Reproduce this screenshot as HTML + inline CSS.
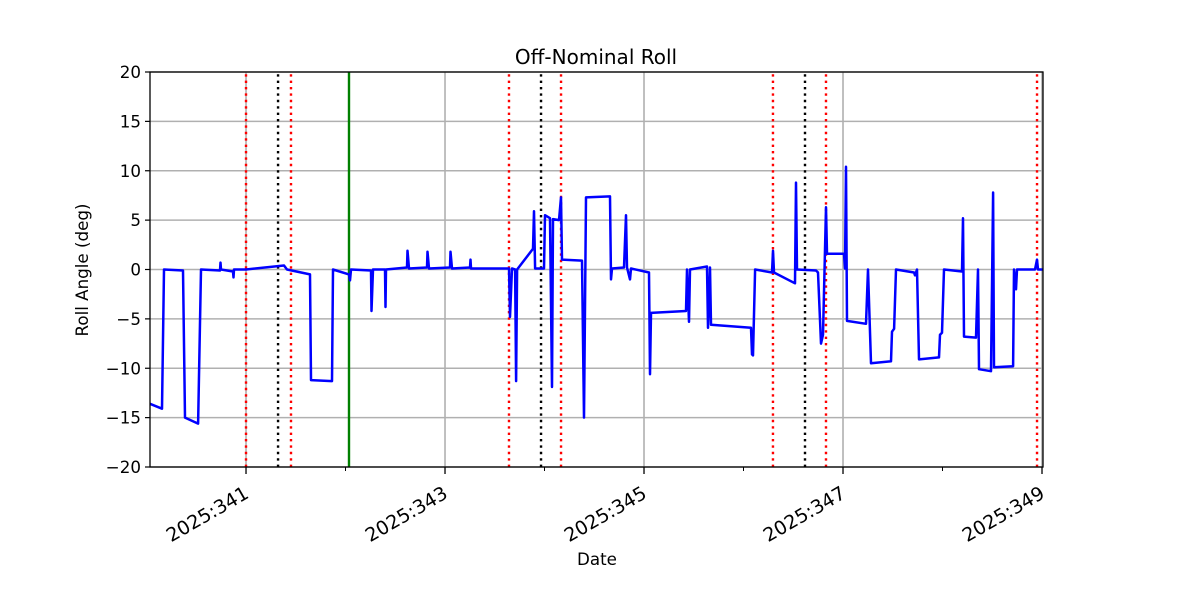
<!DOCTYPE html>
<html><head><meta charset="utf-8"><style>
html,body{margin:0;padding:0;background:#fff;}
svg{display:block;font-family:"DejaVu Sans","Liberation Sans",sans-serif;}
</style></head><body>
<svg id="chart" width="1200" height="600" viewBox="0 0 1200 600" xmlns="http://www.w3.org/2000/svg">
<rect width="1200" height="600" fill="#fff"/>
<g id="grid"></g>
<g id="vlines"></g>
<g id="series"></g>
<rect x="150" y="72" width="893" height="395" fill="none" stroke="#000" stroke-width="1.3"/>
<g id="axes"></g>
<text x="596" y="64" font-size="20" text-anchor="middle">Off-Nominal Roll</text>
<text x="597" y="565" font-size="16.7" text-anchor="middle">Date</text>
<text transform="translate(88,270) rotate(-90)" font-size="16.7" text-anchor="middle">Roll Angle (deg)</text>
</svg>
<script>
const days=[340.035,340.156,340.176,340.367,340.387,340.518,340.548,340.739,340.744,340.749,340.869,340.874,340.879,341.000,341.382,341.412,341.643,341.653,341.864,341.874,342.035,342.045,342.055,342.256,342.261,342.276,342.397,342.402,342.407,342.618,342.623,342.638,342.819,342.824,342.839,343.050,343.055,343.070,343.251,343.256,343.261,343.643,343.653,343.673,343.704,343.714,343.724,343.884,343.894,343.905,343.995,344.005,344.055,344.075,344.085,344.146,344.166,344.176,344.377,344.397,344.417,344.658,344.668,344.678,344.799,344.819,344.829,344.859,344.869,345.050,345.060,345.070,345.422,345.432,345.452,345.462,345.633,345.643,345.663,345.673,346.075,346.085,346.095,346.116,346.286,346.296,346.306,346.518,346.528,346.538,346.729,346.749,346.779,346.799,346.829,346.839,347.010,347.020,347.030,347.040,347.231,347.251,347.281,347.482,347.492,347.513,347.533,347.714,347.724,347.744,347.764,347.965,347.975,347.995,348.015,348.196,348.206,348.216,348.337,348.357,348.367,348.487,348.508,348.518,348.709,348.719,348.739,348.749,348.930,348.950,348.960,349.010];
const roll=[-13.6,-14.1,0,-0.1,-15,-15.6,0,-0.1,0.7,0,-0.2,-0.8,0,0,0.4,0,-0.5,-11.2,-11.3,0,-0.5,-1.1,0,-0.1,-4.2,0,0,-3.8,0,0.2,1.9,0.1,0.2,1.8,0.1,0.2,1.8,0.1,0.2,1.0,0.1,0.1,-4.8,0.1,0,-11.3,0,2.1,5.9,0.1,0.1,5.5,5.2,-11.9,5.1,5.0,7.3,1.0,0.9,-15,7.3,7.4,-1.0,0.1,0.2,5.5,0.2,-1.0,0.1,-0.3,-10.6,-4.4,-4.2,0,-5.3,0,0.3,-5.9,0.2,-5.6,-5.9,-8.6,-8.7,0,-0.3,1.9,-0.3,-1.4,8.8,0,-0.1,-0.3,-7.5,-6.6,6.3,1.6,1.6,0.1,10.4,-5.2,-5.5,0,-9.5,-9.3,-6.3,-6.0,0,-0.3,-0.6,0,-9.1,-8.9,-6.6,-6.4,0,-0.2,5.2,-6.8,-6.9,0,-10.1,-10.3,7.8,-9.9,-9.8,0,-2.0,0,0,1.0,0,0];
const redLines=[341.000,341.452,343.643,344.166,346.296,346.829,348.950];
const blackLines=[341.322,343.965,346.618];
const greenLines=[342.035];
const majorTicks=[341,343,345,347,349];
const minorTicks=[342,344,346,348];
const yTicks=[-20,-15,-10,-5,0,5,10,15,20];
const X0=150,X1=1043,Y0=467,Y1=72,D0=340.035,D1=349.01;
const xs=d=>X0+(d-D0)/(D1-D0)*(X1-X0);
const ys=v=>Y0+(v+20)/40*(Y1-Y0);
const NS="http://www.w3.org/2000/svg";
function mk(tag,attrs,parent){const e=document.createElementNS(NS,tag);for(const k in attrs)e.setAttribute(k,attrs[k]);parent.appendChild(e);return e;}
const grid=document.getElementById('grid'),vl=document.getElementById('vlines'),ser=document.getElementById('series'),ax=document.getElementById('axes');
yTicks.forEach(v=>{const y=ys(v);
 const g=mk('line',{x1:X0,x2:X1,y1:y,y2:y,stroke:'#b0b0b0','stroke-width':1.6},grid);
 
 
 mk('line',{x1:X0-5,x2:X0,y1:y,y2:y,stroke:'#000','stroke-width':1.2},ax);
 const t=mk('text',{x:X0-9,y:y+6,'font-size':16.7,'text-anchor':'end'},ax);t.textContent=String(v).replace('-','\u2212');
 
 
});
majorTicks.forEach(d=>{const x=xs(d);
 const g=mk('line',{x1:x,x2:x,y1:Y0,y2:Y1,stroke:'#b0b0b0','stroke-width':1.6},grid);
 
 
 mk('line',{x1:x,x2:x,y1:Y0,y2:Y0+7,stroke:'#000','stroke-width':1.3},ax);
 const t=mk('text',{x:0,y:0,'font-size':19,'text-anchor':'end',transform:`translate(${x+4},${Y0+30}) rotate(-30)`},ax);t.textContent='2025:'+d;
 
 
});
minorTicks.forEach(d=>{const x=xs(d);mk('line',{x1:x,x2:x,y1:Y0,y2:Y0+4,stroke:'#000','stroke-width':1},ax);});
function vline(d,color,dash,name){const x=xs(d);
 const l=mk('line',{x1:x,x2:x,y1:Y0,y2:Y1,stroke:color,'stroke-width':2.4},vl);
 if(dash)l.setAttribute('stroke-dasharray',dash);
 
 
}
redLines.forEach(d=>vline(d,'#ff0000','2.4 4','red-event-line'));
blackLines.forEach(d=>vline(d,'#000','2.4 4','black-event-line'));
greenLines.forEach(d=>vline(d,'#008000',null,'green-event-line'));
const pts=days.map((d,i)=>xs(d).toFixed(1)+','+ys(roll[i]).toFixed(1)).join(' ');
const pl=mk('polyline',{points:pts,fill:'none',stroke:'#0000ff','stroke-width':2.5,'stroke-linejoin':'round'},ser);


</script>
</body></html>
